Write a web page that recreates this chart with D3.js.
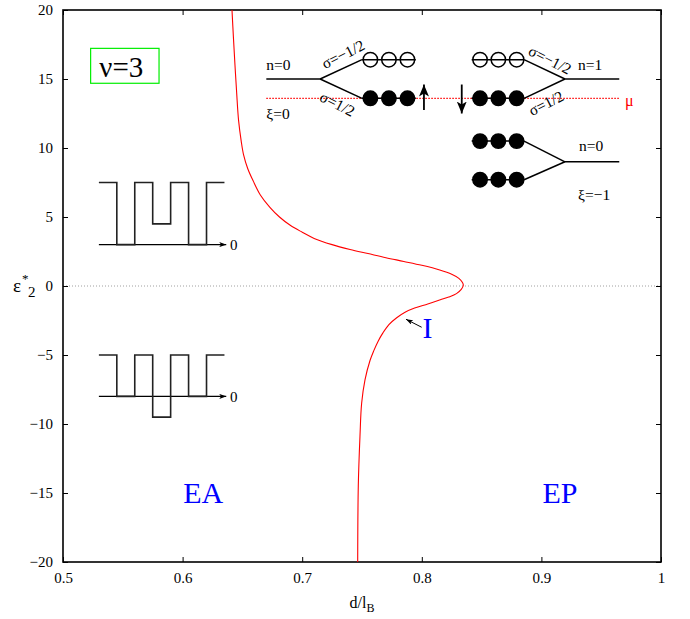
<!DOCTYPE html>
<html>
<head>
<meta charset="utf-8">
<script src="https://cdn.jsdelivr.net/npm/d3@7"></script>
<style>
    body { margin: 0; background: #fff; }
</style>
</head>
<body>
<script>
// Curve I, traced from the top of the frame down to the bottom
var curveD = [0.6413, 0.6425, 0.6438, 0.6452, 0.6468, 0.6490, 0.6510, 0.6545, 0.6591, 0.6650,
    0.6730, 0.6810, 0.6900, 0.7000, 0.7100, 0.7250, 0.7400, 0.7550, 0.7700, 0.7850,
    0.8000, 0.8150, 0.8250, 0.8310, 0.8340, 0.8347, 0.8330, 0.8290, 0.8225, 0.8155,
    0.8050, 0.7940, 0.7860, 0.7790, 0.7725, 0.7675, 0.7635, 0.7598, 0.7567, 0.7525,
    0.7497, 0.7483, 0.7469, 0.7464];
var curveE = [20, 18, 16, 14, 12, 10.5, 9.5, 8.5, 7.6, 6.6,
    5.7, 5.0, 4.4, 3.9, 3.45, 3.0, 2.65, 2.35, 2.05, 1.78,
    1.5, 1.16, 0.85, 0.55, 0.25, 0.05, -0.25, -0.55, -0.8, -1.0,
    -1.3, -1.6, -1.9, -2.3, -2.8, -3.4, -4.0, -4.7, -5.4, -6.8,
    -8.5, -10.9, -14.5, -20];

// Axis ticks
var xTicks = [0.5, 0.6, 0.7, 0.8, 0.9, 1];
var yTicks = [-20, -15, -10, -5, 0, 5, 10, 15, 20];

// Square-wave insets (segment edges and the level of each segment)
var waveD = [0.53, 0.545, 0.56, 0.575, 0.59, 0.605, 0.62, 0.635];
var waveUpper = [7.5, 3, 7.5, 4.5, 7.5, 3, 7.5];
var waveLower = [-5, -8, -5, -9.5, -5, -8, -5];
var waveBase = [3, -8];

// Level diagram
var sitesLeft = [0.757, 0.7725, 0.788];
var sitesRight = [0.8487, 0.864, 0.8793];
var hollowE = 16.4, filledE = 13.6, muE = 13.6;
var lowerRowsE = [10.5, 7.7];

var FONT = "'Liberation Serif', 'Times New Roman', Times, serif";

var margin = { top: 10, right: 29, bottom: 57, left: 63 },
    width = 690 - margin.left - margin.right,
    height = 619 - margin.top - margin.bottom;

var svg = d3.select("body").append("svg")
    .attr("width", 690)
    .attr("height", 619);

var defs = svg.append("defs");
addArrow(defs, "head", 12, 10);
addArrow(defs, "small", 7, 5);

var g = svg.append("g")
    .attr("transform", "translate(" + margin.left + "," + margin.top + ")");

var x = d3.scaleLinear().domain([0.5, 1]).range([0, width]);
var y = d3.scaleLinear().domain([-20, 20]).range([height, 0]);

// zero line
g.append("line")
    .attr("x1", 0).attr("x2", width)
    .attr("y1", y(0)).attr("y2", y(0))
    .attr("stroke", "#a0a0a0")
    .attr("stroke-dasharray", "1,2");

drawAxes();
drawCurve();
drawWaves();
drawDiagram();
drawLabels();

// force the serif face on every label
svg.selectAll("g").attr("font-family", null);
svg.selectAll("text").style("font-family", FONT);

function addArrow(defs, id, len, wid) {
    defs.append("marker")
        .attr("id", id)
        .attr("viewBox", "0 0 " + len + " " + wid)
        .attr("refX", len).attr("refY", wid / 2)
        .attr("markerWidth", len).attr("markerHeight", wid)
        .attr("markerUnits", "userSpaceOnUse")
        .attr("orient", "auto")
        .append("path")
        .attr("d", "M0,0L" + len + "," + (wid / 2) + "L0," + wid + "L" + (len * 0.25) + "," + (wid / 2) + "Z")
        .attr("fill", "#000");
}

// Axes with inward ticks, mirrored on top and right
function drawAxes() {
    var fmtX = function (d) { return d === 1 ? "1" : d3.format(".1f")(d); };
    g.append("g")
        .attr("transform", "translate(0," + height + ")")
        .call(d3.axisBottom(x).tickValues(xTicks).tickFormat(fmtX)
            .tickSizeInner(-5).tickSizeOuter(0).tickPadding(10));
    g.append("g")
        .call(d3.axisLeft(y).tickValues(yTicks)
            .tickSizeInner(-5).tickSizeOuter(0).tickPadding(10));
    g.append("g")
        .call(d3.axisTop(x).tickValues(xTicks).tickFormat("")
            .tickSizeInner(-5).tickSizeOuter(0));
    g.append("g")
        .attr("transform", "translate(" + width + ",0)")
        .call(d3.axisRight(y).tickValues(yTicks).tickFormat("")
            .tickSizeInner(-5).tickSizeOuter(0));
    g.selectAll(".domain").remove();
    g.selectAll(".tick line").attr("stroke", "#000").attr("stroke-width", 1);
    g.selectAll(".tick text")
        .attr("font-size", "15px")
        .attr("fill", "#000");

    g.append("rect")
        .attr("width", width).attr("height", height)
        .attr("fill", "none")
        .attr("stroke", "#000")
        .attr("stroke-width", 1.6);

    // axis titles
    var xl = svg.append("text")
        .attr("x", margin.left + width / 2).attr("y", 608)
        .attr("text-anchor", "middle")
        .attr("font-size", "16px");
    xl.append("tspan").text("d/l");
    xl.append("tspan").attr("font-size", "12px").attr("dy", 4).text("B");

    svg.append("text").attr("x", 13).attr("y", 292).attr("font-size", "19px").text("ε");
    svg.append("text").attr("x", 22).attr("y", 283).attr("font-size", "13px").text("*");
    svg.append("text").attr("x", 28).attr("y", 297).attr("font-size", "15px").text("2");
}

function drawCurve() {
    var pts = curveD.map(function (d, i) { return [d, curveE[i]]; });
    var line = d3.line()
        .x(function (d) { return x(d[0]); })
        .y(function (d) { return y(d[1]); })
        .curve(d3.curveCatmullRom.alpha(0.5));
    g.append("path")
        .datum(pts)
        .attr("fill", "none")
        .attr("stroke", "#ff0000")
        .attr("stroke-width", 1.1)
        .attr("d", line);

    // pointer to the curve
    g.append("line")
        .attr("x1", x(0.7999)).attr("y1", y(-2.99))
        .attr("x2", x(0.7868)).attr("y2", y(-2.41))
        .attr("stroke", "#000").attr("stroke-width", 1)
        .attr("marker-end", "url(#small)");
}

function drawWaves() {
    var line = d3.line()
        .x(function (d) { return x(d[0]); })
        .y(function (d) { return y(d[1]); });
    [waveUpper, waveLower].forEach(function (levels, k) {
        var pts = [];
        levels.forEach(function (v, i) {
            pts.push([waveD[i], v]);
            pts.push([waveD[i + 1], v]);
        });
        // baseline with arrow
        g.append("line")
            .attr("x1", x(waveD[0])).attr("x2", x(0.6365))
            .attr("y1", y(waveBase[k])).attr("y2", y(waveBase[k]))
            .attr("stroke", "#000").attr("stroke-width", 1.2)
            .attr("marker-end", "url(#small)");
        g.append("path")
            .datum(pts)
            .attr("fill", "none")
            .attr("stroke", "#222")
            .attr("stroke-width", 1.6)
            .attr("d", line);
        g.append("text")
            .attr("x", x(0.6396)).attr("y", y(waveBase[k]))
            .attr("dy", "0.35em")
            .attr("font-size", "15px")
            .text("0");
    });
}

function drawDiagram() {
    var segs = [
        [0.670, 15, 0.715, 15], [0.715, 15, 0.750, hollowE], [0.715, 15, 0.750, filledE],
        [0.750, hollowE, 0.795, hollowE], [0.750, filledE, 0.795, filledE],
        [0.8417, hollowE, 0.8855, hollowE], [0.8417, filledE, 0.8855, filledE],
        [0.8855, hollowE, 0.9197, 15], [0.8855, filledE, 0.9197, 15], [0.9197, 15, 0.9651, 15],
        [0.8417, lowerRowsE[0], 0.8855, lowerRowsE[0]], [0.8417, lowerRowsE[1], 0.8855, lowerRowsE[1]],
        [0.8855, lowerRowsE[0], 0.9197, 9], [0.8855, lowerRowsE[1], 0.9197, 9], [0.9197, 9, 0.9651, 9]
    ];

    // chemical potential
    g.append("line")
        .attr("x1", x(0.670)).attr("x2", x(0.9657))
        .attr("y1", y(muE)).attr("y2", y(muE))
        .attr("stroke", "#ff0000").attr("stroke-width", 1.2)
        .attr("stroke-dasharray", "1.5,1.5");

    g.selectAll(".seg").data(segs).enter().append("line")
        .attr("x1", function (d) { return x(d[0]); })
        .attr("y1", function (d) { return y(d[1]); })
        .attr("x2", function (d) { return x(d[2]); })
        .attr("y2", function (d) { return y(d[3]); })
        .attr("stroke", "#000").attr("stroke-width", 1.5);

    var dots = [];
    sitesLeft.concat(sitesRight).forEach(function (d) {
        dots.push([d, hollowE, false]);
        dots.push([d, filledE, true]);
    });
    sitesRight.forEach(function (d) {
        dots.push([d, lowerRowsE[0], true]);
        dots.push([d, lowerRowsE[1], true]);
    });
    g.selectAll(".site").data(dots).enter().append("circle")
        .attr("cx", function (d) { return x(d[0]); })
        .attr("cy", function (d) { return y(d[1]); })
        .attr("r", 7.2)
        .attr("fill", function (d) { return d[2] ? "#000" : "none"; })
        .attr("stroke", "#000").attr("stroke-width", 1.5);

    // spin arrows
    g.append("line")
        .attr("x1", x(0.8018)).attr("x2", x(0.8018))
        .attr("y1", y(12.75)).attr("y2", y(14.6))
        .attr("stroke", "#000").attr("stroke-width", 1.8)
        .attr("marker-end", "url(#head)");
    g.append("line")
        .attr("x1", x(0.8334)).attr("x2", x(0.8334))
        .attr("y1", y(14.6)).attr("y2", y(12.5))
        .attr("stroke", "#000").attr("stroke-width", 1.8)
        .attr("marker-end", "url(#head)");

    var labels = [
        ["n=0", 0.670, 15.65],
        ["ξ=0", 0.670, 12.1],
        ["n=1", 0.9306, 15.65],
        ["n=0", 0.9314, 9.8],
        ["ξ=−1", 0.9306, 6.23]
    ];
    g.selectAll(".lab").data(labels).enter().append("text")
        .attr("x", function (d) { return x(d[1]); })
        .attr("y", function (d) { return y(d[2]); })
        .attr("font-size", "15.5px")
        .text(function (d) { return d[0]; });

    var sigmas = [
        ["σ=−1/2", 0.7341, 16.8, -27],
        ["σ=1/2", 0.7295, 13.2, 27],
        ["σ=−1/2", 0.9072, 16.4, 27],
        ["σ=1/2", 0.9038, 13.25, -27]
    ];
    g.selectAll(".sig").data(sigmas).enter().append("text")
        .attr("transform", function (d) {
            return "translate(" + x(d[1]) + "," + y(d[2]) + ") rotate(" + d[3] + ")";
        })
        .attr("text-anchor", "middle")
        .attr("dy", "0.35em")
        .attr("font-size", "15.5px")
        .text(function (d) { return d[0]; });

    g.append("text")
        .attr("x", x(0.9699)).attr("y", y(13.04))
        .attr("font-size", "16px")
        .attr("fill", "#ff0000")
        .text("μ");
}

function drawLabels() {
    // filling factor box
    g.append("rect")
        .attr("x", x(0.5231)).attr("y", y(17.22))
        .attr("width", x(0.5803) - x(0.5231))
        .attr("height", y(14.69) - y(17.22))
        .attr("fill", "none")
        .attr("stroke", "#00ee00").attr("stroke-width", 1.2);
    g.append("text")
        .attr("x", x(0.5304)).attr("y", y(15.17))
        .attr("font-size", "29px")
        .text("ν=3");

    var phases = [["EA", 0.6173], ["EP", 0.9156], ["I", 0.8047]];
    var phaseE = [-15.75, -15.75, -3.75];
    g.selectAll(".phase").data(phases).enter().append("text")
        .attr("x", function (d) { return x(d[1]); })
        .attr("y", function (d, i) { return y(phaseE[i]); })
        .attr("text-anchor", "middle")
        .attr("font-size", "30px")
        .attr("fill", "#0000ff")
        .text(function (d) { return d[0]; });
}
</script>
</body>
</html>
